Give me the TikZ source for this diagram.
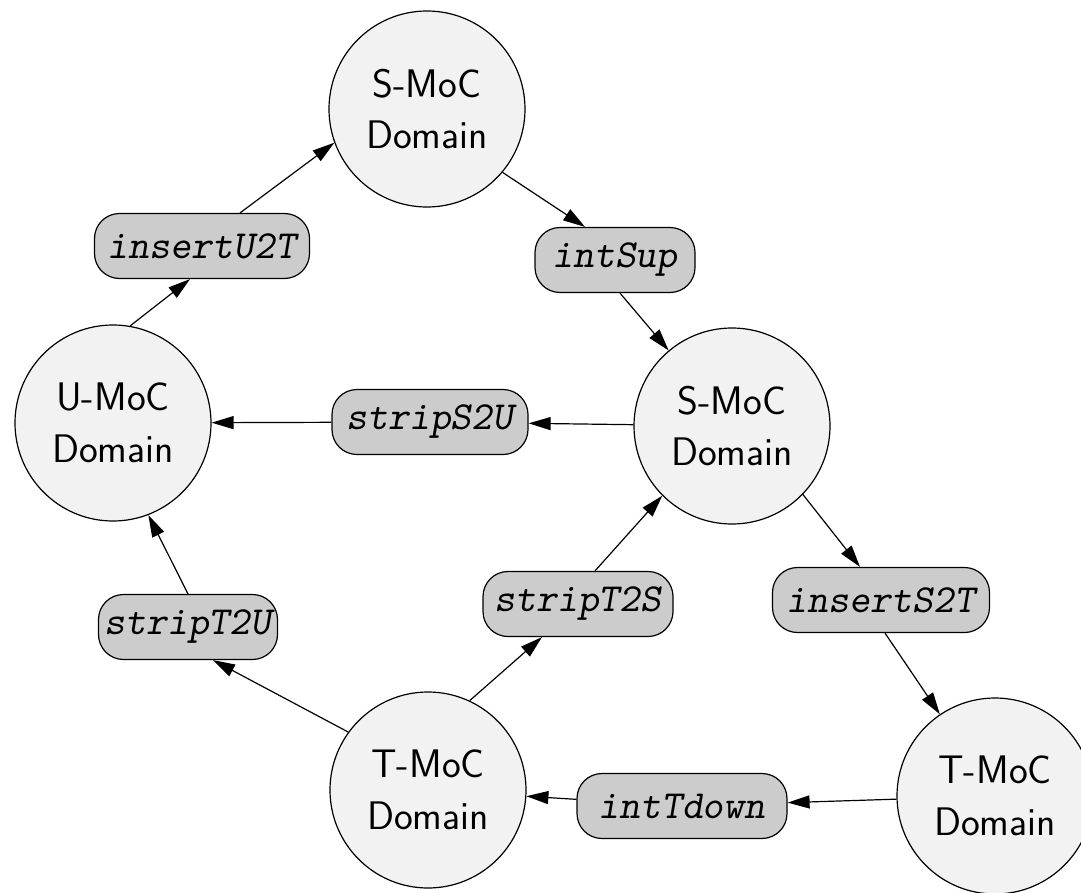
\documentclass[tikz,border=0pt]{standalone}
\usepackage{fontspec}
\usetikzlibrary{arrows.meta}
\definecolor{domfill}{HTML}{F2F2F2}
\definecolor{opfill}{HTML}{CCCCCC}
\tikzset{
  dom/.style={circle, draw, fill=domfill, minimum size=196bp, inner sep=0pt,
    align=center, line width=1.2bp, font=\sffamily\fontsize{40}{52}\selectfont},
  op/.style={rounded corners=25bp, draw, fill=opfill, minimum height=65bp, inner sep=0pt,
    line width=1.2bp, font=\ttfamily\slshape\fontsize{40}{44}\selectfont},
  conn/.style={-{Triangle[length=22bp,width=13bp]}, line width=1.2bp},
}
\begin{document}
\begin{tikzpicture}[x=1bp,y=-1bp]
\useasboundingbox (0,0) rectangle (1081,893);
% domains
\node[dom] (Stop) at (427,109) {S-MoC\\Domain};
\node[dom] (U) at (113,423) {U-MoC\\Domain};
\node[dom] (Smid) at (732,426) {S-MoC\\Domain};
\node[dom] (Tbot) at (428,790) {T-MoC\\Domain};
\node[dom] (Tright) at (995,796) {T-MoC\\Domain};
% operations
\node[op, minimum width=215bp] (insU) at (202,246) {insertU2T};
\node[op, minimum width=160bp] (intS) at (615,260) {intSup};
\node[op, minimum width=196bp] (S2U) at (430,422) {stripS2U};
\node[op, minimum width=190bp] (T2S) at (578,604) {stripT2S};
\node[op, minimum width=217bp] (insS) at (881,600) {insertS2T};
\node[op, minimum width=179bp] (T2U) at (188,627) {stripT2U};
\node[op, minimum width=210bp] (intT) at (682,806) {intTdown};
% connectors
\draw[conn] (U.80) -- ([xshift=-12bp]insU.south);
\draw[conn] ([xshift=38bp]insU.north) -- (Stop.200);
\draw[conn] (Stop.-40) -- ([xshift=-30bp]intS.north);
\draw[conn] ([xshift=5bp]intS.south) -- (Smid.130);
\draw[conn] (Smid) -- (S2U);
\draw[conn] (S2U) -- (U);
\draw[conn] (Smid.-44) -- ([xshift=-21bp]insS.north);
\draw[conn] ([xshift=4bp]insS.south) -- (Tright.124);
\draw[conn] (Tright) -- (intT);
\draw[conn] (intT) -- (Tbot);
\draw[conn] (Tbot.65) -- ([xshift=-36bp]T2S.south);
\draw[conn] ([xshift=17bp]T2S.north) -- (Smid.225);
\draw[conn] (Tbot.144) -- ([xshift=25bp]T2U.south);
\draw[conn] (T2U.north) -- (U.291);
\end{tikzpicture}
\end{document}
